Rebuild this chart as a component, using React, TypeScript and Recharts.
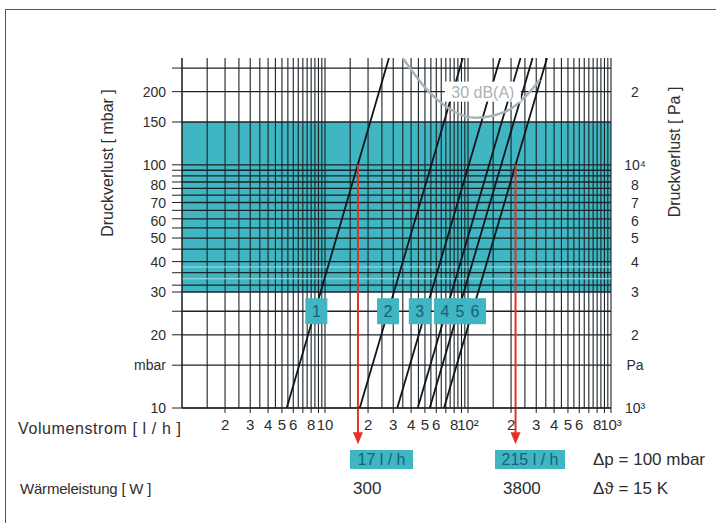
import {
  ComposedChart,
  Line,
  ReferenceArea,
  ReferenceLine,
  Scatter,
  XAxis,
  YAxis,
} from "recharts";

const FONT = '"Liberation Sans", Arial, Helvetica, sans-serif';
const INK = "#2e2e2e";
const GRID = "#1c2226";
const BAND = "#3fb6c2";
const BOX_TEXT = "#17607a";
const ARROW = "#e2312b";
const DB_GREY = "#a9b2b6";
const PA_LABEL_X = 635;

// x: Volumenstrom [l/h], log 1..1000
const FLOW_MANTISSAS = [1, 1.5, 2, 2.5, 3, 3.5, 4, 4.5, 5, 5.5, 6, 6.5, 7, 7.5, 8, 8.5, 9, 9.5];
const FLOW_DECADES = [1, 10, 100];
const FLOW_TICKS = [2, 3, 4, 5, 6, 7, 8, 9, 10, 20, 30, 40, 50, 60, 70, 80, 90, 100, 200, 300, 400, 500, 600, 700, 800, 900, 1000];
const FLOW_TICK_LABELS = ["2", "3", "4", "5", "6", "", "8", "", "10", "2", "3", "4", "5", "6", "", "8", "", "10²", "2", "3", "4", "5", "6", "", "8", "", "10³"];

// y: Druckverlust [mbar], log 10..275
const PRESSURE_DOMAIN = [10, 275];
const PRESSURE_GRID = [10, 15, 20, 25, 30, 32, 36, 40, 45, 50, 55, 60, 65, 70, 75, 80, 85, 90, 95, 100, 150, 200, 250];
const PRESSURE_GRID_LIGHT = [34, 38];
const MBAR_TICKS = [10, 15, 20, 30, 40, 50, 60, 70, 80, 100, 150, 200];
const MBAR_LABELS = ["10", "mbar", "20", "30", "40", "50", "60", "70", "80", "100", "150", "200"];
const PA_TICKS = [10, 15, 20, 30, 40, 50, 60, 70, 80, 100, 200];
const PA_LABELS = ["10³", "Pa", "2", "3", "4", "5", "6", "7", "8", "10⁴", "2"];
const BAND_RANGE = [30, 150];

// valve characteristics 1..6 (straight in log-log)
const VALVES = ["1", "2", "3", "4", "5", "6"];
const FLOW_AT_10_MBAR = [5.4, 17.5, 32, 44.5, 54, 68];
const FLOW_AT_TOP = [28, 92, 168, 233, 283, 357];
const VALVE_LABEL_FLOW = [8.7, 27.6, 46, 69, 88, 112];
const VALVE_LABEL_PRESSURE = 25;

// 30 dB(A) limit curve
const DB30_FLOW = [35, 54, 71, 112, 181, 250, 318];
const DB30_PRESSURE = [275, 198, 173, 156, 165, 190, 224];
const DB30_LABEL = { v: 127, p: 200, label: "30 dB(A)" };

// read-off arrows at 100 mbar
const ARROW_FLOWS = [17, 215];
const ARROW_FROM = 100;
const ARROW_TO = 7.1;

const gridFlows = FLOW_DECADES.flatMap((d) => FLOW_MANTISSAS.map((m) => m * d)).concat([1000]);
const valveData = VALVES.map((_, i) => [
  { v: FLOW_AT_10_MBAR[i], p: PRESSURE_DOMAIN[0] },
  { v: FLOW_AT_TOP[i], p: PRESSURE_DOMAIN[1] },
]);
const valveLabels = VALVES.map((label, i) => ({ v: VALVE_LABEL_FLOW[i], p: VALVE_LABEL_PRESSURE, label }));
const dbData = DB30_FLOW.map((v, i) => ({ v, p: DB30_PRESSURE[i] }));

// the 80/70/60 labels sit very close, pull them apart a touch
const NUDGE: Record<number, number> = { 80: -3, 70: 0.5, 60: 2.5 };

const flowLabel = (v: number) => {
  const i = FLOW_TICKS.indexOf(v);
  return i < 0 ? "" : FLOW_TICK_LABELS[i];
};

const MbarTick = (props: any) => {
  const v = props.payload.value;
  const i = MBAR_TICKS.indexOf(v);
  if (i < 0) return null;
  return (
    <text x={props.x} y={props.y} dy={5 + (NUDGE[v] || 0)} textAnchor="end" fill={INK} fontSize={14} fontFamily={FONT}>
      {MBAR_LABELS[i]}
    </text>
  );
};

const PaTick = (props: any) => {
  const v = props.payload.value;
  const i = PA_TICKS.indexOf(v);
  if (i < 0) return null;
  return (
    <text x={PA_LABEL_X} y={props.y} dy={5 + (NUDGE[v] || 0)} textAnchor="middle" fill={INK} fontSize={14} fontFamily={FONT}>
      {PA_LABELS[i]}
    </text>
  );
};

const ValveBox = (props: any) => {
  const { cx, cy, payload } = props;
  return (
    <g>
      <rect x={cx - 11} y={cy - 13} width={22} height={26} fill={BAND} />
      <text x={cx} y={cy + 6} textAnchor="middle" fill={BOX_TEXT} fontSize={16} fontFamily={FONT}>
        {payload.label}
      </text>
    </g>
  );
};

const DbLabel = (props: any) => {
  const { cx, cy, payload } = props;
  return (
    <g>
      <rect x={cx - 38} y={cy - 10} width={76} height={20} fill="#fff" />
      <text x={cx} y={cy + 6} textAnchor="middle" fill={DB_GREY} fontSize={16} fontFamily={FONT}>
        {payload.label}
      </text>
    </g>
  );
};

const ArrowShape = (props: any) => {
  const { x1, y1, x2, y2 } = props;
  return (
    <g>
      <line x1={x1} y1={y1} x2={x2} y2={y2 - 10} stroke={ARROW} strokeWidth={2} />
      <polygon points={`${x2 - 5},${y2 - 12} ${x2 + 5},${y2 - 12} ${x2},${y2}`} fill={ARROW} />
    </g>
  );
};

const txt = (s: string, left: number, top: number, extra: any = {}) => (
  <div
    style={{
      position: "absolute",
      left,
      top,
      fontFamily: FONT,
      fontSize: 15,
      color: INK,
      lineHeight: "19px",
      whiteSpace: "nowrap",
      ...extra,
    }}
  >
    {s}
  </div>
);

export default function App() {
  return (
    <div style={{ position: "absolute", left: 0, top: 0, width: 716, height: 523, overflow: "hidden", background: "#fff" }}>
      <div
        style={{
          position: "absolute",
          left: 5,
          top: 9,
          width: 740,
          height: 540,
          borderLeft: "1.5px solid #555",
          borderTop: "1.5px solid #555",
        }}
      />
      <ComposedChart width={716} height={523} margin={{ top: 58, right: 2, bottom: 85, left: 2 }}>
        <XAxis
          type="number"
          dataKey="v"
          scale="log"
          domain={[1, 1000]}
          allowDataOverflow
          ticks={FLOW_TICKS}
          interval={0}
          tickFormatter={flowLabel}
          tickSize={5}
          tickMargin={6}
          height={30}
          stroke={GRID}
          tick={{ fill: INK, fontSize: 15, fontFamily: FONT }}
        />
        <YAxis
          yAxisId="left"
          type="number"
          dataKey="p"
          scale="log"
          domain={PRESSURE_DOMAIN}
          allowDataOverflow
          ticks={PRESSURE_GRID}
          interval={0}
          tick={<MbarTick />}
          tickSize={10}
          tickMargin={6}
          width={180}
          stroke={GRID}
          label={{
            value: "Druckverlust [ mbar ]",
            angle: -90,
            position: "center",
            dx: 15,
            dy: -70,
            fill: INK,
            fontSize: 16,
            fontFamily: FONT,
          }}
        />
        <YAxis
          yAxisId="right"
          orientation="right"
          type="number"
          dataKey="p"
          scale="log"
          domain={PRESSURE_DOMAIN}
          allowDataOverflow
          ticks={PA_TICKS}
          interval={0}
          tick={<PaTick />}
          tickLine={false}
          axisLine={false}
          width={103}
          label={{
            value: "Druckverlust [ Pa ]",
            angle: -90,
            position: "center",
            dx: 12,
            dy: -81,
            fill: INK,
            fontSize: 16,
            fontFamily: FONT,
          }}
        />

        <ReferenceArea
          yAxisId="left"
          y1={BAND_RANGE[0]}
          y2={BAND_RANGE[1]}
          fill={BAND}
          fillOpacity={1}
          stroke="none"
          zIndex={10}
        />
        {gridFlows.map((v) => (
          <ReferenceLine key={`vx${v}`} yAxisId="left" x={v} stroke={GRID} strokeWidth={1.1} zIndex={20} />
        ))}
        {PRESSURE_GRID_LIGHT.map((p) => (
          <ReferenceLine key={`wl${p}`} yAxisId="left" y={p} stroke="#a9dfe4" strokeWidth={1} zIndex={21} />
        ))}
        {PRESSURE_GRID.map((p) => (
          <ReferenceLine key={`hy${p}`} yAxisId="left" y={p} stroke={GRID} strokeWidth={1.3} zIndex={22} />
        ))}

        {valveData.map((d, i) => (
          <Line
            key={VALVES[i]}
            yAxisId="left"
            data={d}
            dataKey="p"
            type="linear"
            stroke="#10161c"
            strokeWidth={1.8}
            dot={false}
            activeDot={false}
            isAnimationActive={false}
            zIndex={30}
          />
        ))}
        <Line
          yAxisId="left"
          data={dbData}
          dataKey="p"
          type="monotone"
          stroke={DB_GREY}
          strokeWidth={2.5}
          dot={false}
          activeDot={false}
          isAnimationActive={false}
          zIndex={40}
        />
        {ARROW_FLOWS.map((v) => (
          <ReferenceLine
            key={`ar${v}`}
            yAxisId="left"
            segment={[
              { x: v, y: ARROW_FROM },
              { x: v, y: ARROW_TO },
            ]}
            ifOverflow="visible"
            shape={ArrowShape}
            zIndex={50}
          />
        ))}
        <Scatter
          yAxisId="left"
          data={valveLabels}
          dataKey="p"
          shape={ValveBox}
          isAnimationActive={false}
          zIndex={60}
        />
        <Scatter
          yAxisId="left"
          data={[DB30_LABEL]}
          dataKey="p"
          shape={DbLabel}
          isAnimationActive={false}
          zIndex={70}
        />
      </ComposedChart>

      {txt("Volumenstrom [ l / h ]", 18, 419, { fontSize: 16, letterSpacing: 0.6 })}
      {txt("17 l / h", 350, 450, { width: 63, height: 19, fontSize: 16, background: BAND, color: BOX_TEXT, textAlign: "center" })}
      {txt("215 l / h", 495, 450, { width: 70, height: 19, fontSize: 16, background: BAND, color: BOX_TEXT, textAlign: "center" })}
      {txt("Δp = 100 mbar", 593, 450, { fontSize: 17 })}
      {txt("Wärmeleistung [ W ]", 20, 479, { letterSpacing: -0.2 })}
      {txt("300", 353, 479, { fontSize: 17 })}
      {txt("3800", 503, 479, { fontSize: 17 })}
      {txt("Δϑ = 15 K", 593, 479, { fontSize: 17 })}
    </div>
  );
}
